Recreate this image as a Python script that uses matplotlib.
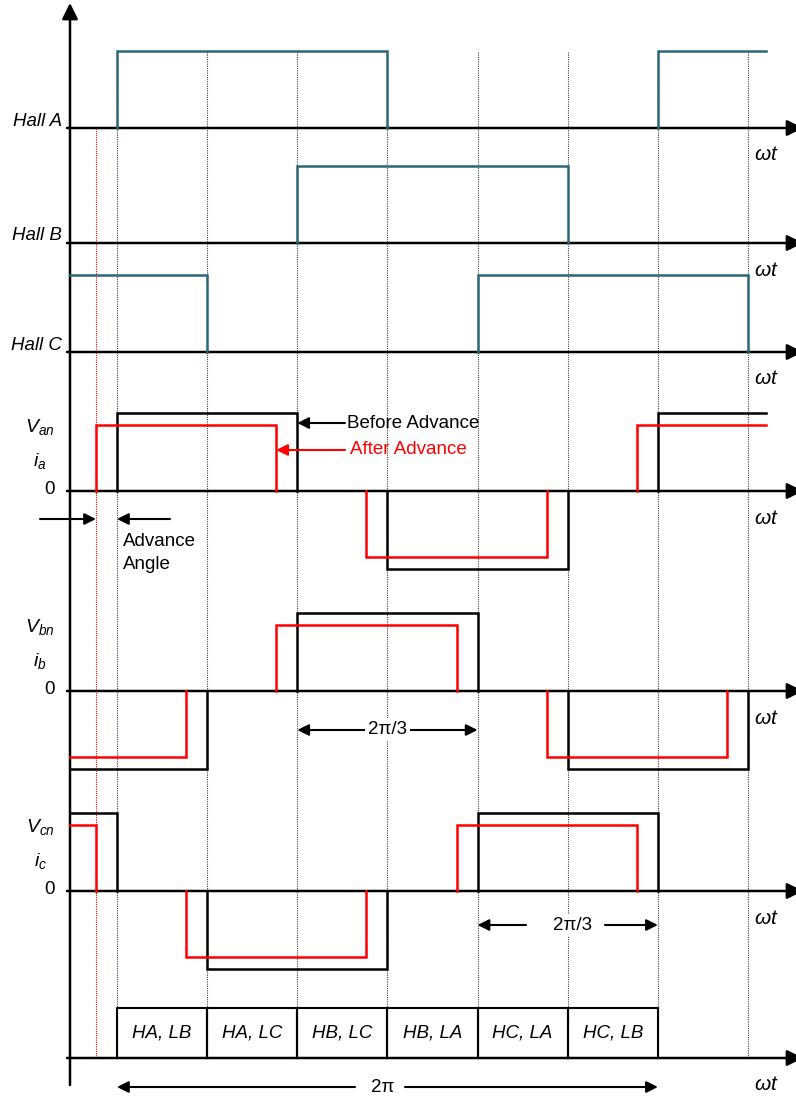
import numpy as np
import matplotlib.pyplot as plt

plt.rcParams['font.family'] = ['Liberation Sans', 'DejaVu Sans']
plt.rcParams['mathtext.fontset'] = 'custom'
plt.rcParams['mathtext.it'] = 'Liberation Sans:italic'
plt.rcParams['mathtext.rm'] = 'Liberation Sans'

# electrical angle in degrees, one sector = 60 deg
sector_edges = np.arange(0, 480, 60)
x_start, x_end = -31, 432
advance = 14

# hall sensor high intervals
hall_names = ["Hall A", "Hall B", "Hall C"]
hall_a = [(0, 180), (360, 432)]
hall_b = [(120, 300)]
hall_c = [(-31, 60), (240, 420)]
halls = [hall_a, hall_b, hall_c]

# phase voltage pulses (start, end, level) before advance
phase_v = [r"$V_{an}$", r"$V_{bn}$", r"$V_{cn}$"]
phase_i = [r"$i_{a}$", r"$i_{b}$", r"$i_{c}$"]
van = [(0, 120, 1), (180, 300, -1), (360, 432, 1)]
vbn = [(-31, 60, -1), (120, 240, 1), (300, 420, -1)]
vcn = [(-31, 0, 1), (60, 180, -1), (240, 360, 1)]
phases = [van, vbn, vcn]
red_level = 0.85

states = ["HA, LB", "HA, LC", "HB, LC", "HB, LA", "HC, LA", "HC, LB"]

# layout (pixel rows of the figure)
PX = 1.5024  # pixels per degree
def deg(px):
    return (px - 117) / PX

hall_base = [128, 243, 352]
hall_h = 77
phase_base = [491, 691, 891]
phase_h = 78
table_top, table_base = 1008, 1058
teal = '#2b6777'
fs = 13.5

fig = plt.figure(figsize=(7.96, 10.98), dpi=100)
ax = fig.add_axes([0, 0, 1, 1])
ax.set_xlim(deg(0), deg(796))
ax.set_ylim(1098, 0)
ax.axis('off')

axis_arrow = dict(arrowstyle='-|>', lw=1.8, color='k', mutation_scale=24,
                  shrinkA=0, shrinkB=0)


def pulse(a, b, h, y0, **kw):
    xs, ys = [], []
    if a > x_start:
        xs.append(a); ys.append(y0)
    xs += [a, b]; ys += [y0 - h, y0 - h]
    if b < x_end:
        xs.append(b); ys.append(y0)
    ax.plot(xs, ys, solid_joinstyle='miter', **kw)


def h_axis(y0):
    ax.annotate('', xy=(deg(803), y0), xytext=(deg(67), y0), annotation_clip=False,
                arrowprops=axis_arrow, zorder=2)
    ax.text(deg(766), y0 + 27, r'$\omega t$', fontsize=15, ha='center', va='center')


# dotted sector lines
for e in sector_edges:
    ax.plot([e, e], [52, table_base], color='#444444', lw=0.8, ls=(0, (1, 1)), zorder=1)
ax.plot([-advance, -advance], [hall_base[0], table_base], color='red', lw=0.8,
        ls=(0, (1, 1)), zorder=1)

# vertical axis
ax.annotate('', xy=(deg(70), 3), xytext=(deg(70), 1085), annotation_clip=False,
            arrowprops=axis_arrow)

# hall signals
for name, hs, y0 in zip(hall_names, halls, hall_base):
    h_axis(y0)
    for a, b in hs:
        pulse(a, b, hall_h, y0, color=teal, lw=1.8, zorder=3)
    ax.text(deg(62), y0 - 7, name, fontsize=fs, style='italic', ha='right', va='center')

# phase voltages / currents
for v, i, ph, y0 in zip(phase_v, phase_i, phases, phase_base):
    h_axis(y0)
    for a, b, lv in ph:
        pulse(a, b, lv * phase_h, y0, color='black', lw=1.8, zorder=3)
        ra = x_start if a <= x_start else a - advance
        rb = b if b >= x_end else b - advance
        pulse(ra, rb, lv * phase_h * red_level, y0, color='red', lw=1.8, zorder=4)
    ax.text(deg(40), y0 - 64, v, fontsize=14, ha='center', va='center')
    ax.text(deg(40), y0 - 30, i, fontsize=14, ha='center', va='center')
    ax.text(deg(55), y0 - 1, '0', fontsize=fs, ha='right', va='center')

arrow = dict(arrowstyle='-|>', lw=1.5, color='k', mutation_scale=17, shrinkA=0, shrinkB=0)
red_arrow = dict(arrow, color='red')

# before / after advance
ax.annotate('', xy=(120, 423), xytext=(deg(345), 423), arrowprops=arrow)
ax.text(deg(347), 423, 'Before Advance', fontsize=fs, va='center')
ax.annotate('', xy=(120 - advance, 450), xytext=(deg(345), 450), arrowprops=red_arrow)
ax.text(deg(350), 450, 'After Advance', fontsize=fs, va='center', color='red')

# advance angle
ax.annotate('', xy=(-advance, 519), xytext=(deg(40), 519), arrowprops=arrow)
ax.annotate('', xy=(0, 519), xytext=(deg(170), 519), arrowprops=arrow)
ax.text(deg(123), 553, 'Advance\nAngle', fontsize=fs, va='center', linespacing=1.45)

# interval markers
bbox = dict(facecolor='white', edgecolor='none', pad=2)
ax.annotate('', xy=(120, 730), xytext=(deg(365), 730), arrowprops=arrow)
ax.annotate('', xy=(240, 730), xytext=(deg(410), 730), arrowprops=arrow)
ax.text(180, 730, '2\u03c0/3', fontsize=fs, ha='center', va='center', bbox=bbox, zorder=5)
ax.annotate('', xy=(240, 925), xytext=(deg(526), 925), arrowprops=arrow)
ax.annotate('', xy=(360, 925), xytext=(deg(605), 925), arrowprops=arrow)
ax.text(deg(572), 925, '2\u03c0/3', fontsize=fs, ha='center', va='center', bbox=bbox, zorder=5)

# commutation table
h_axis(table_base)
for k, s in enumerate(states):
    a, b = sector_edges[k], sector_edges[k + 1]
    ax.plot([a, a, b, b], [table_base, table_top, table_top, table_base],
            color='k', lw=1.5, zorder=3)
    ax.text((a + b) / 2, (table_top + table_base) / 2, s, fontsize=fs,
            style='italic', ha='center', va='center')

ax.annotate('', xy=(0, 1087), xytext=(deg(355), 1087), arrowprops=arrow)
ax.annotate('', xy=(360, 1087), xytext=(deg(405), 1087), arrowprops=arrow)
ax.text(deg(383), 1087, '2\u03c0', fontsize=fs, ha='center', va='center')

fig.savefig('out.png', dpi=100)
